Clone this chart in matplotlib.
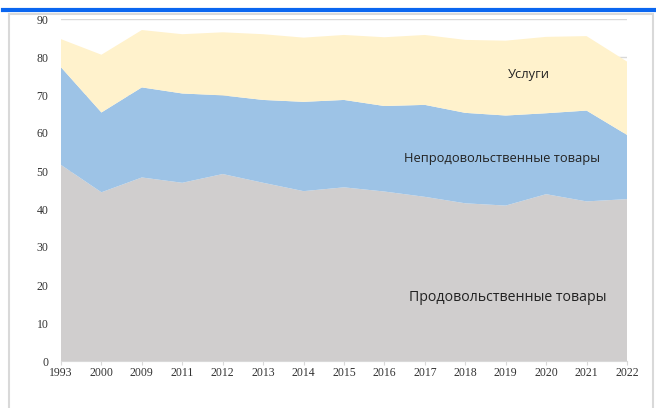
import matplotlib
matplotlib.use("Agg")
import matplotlib.pyplot as plt
from matplotlib.patches import Rectangle
from matplotlib.lines import Line2D
import numpy as np

years = ["1993", "2000", "2009", "2011", "2012", "2013", "2014", "2015",
         "2016", "2017", "2018", "2019", "2020", "2021", "2022"]
food = [51.6, 44.4, 48.3, 46.9, 49.2, 46.9, 44.7, 45.7, 44.6, 43.2, 41.5, 40.9, 43.9, 42.0, 42.6]
nonfood = [25.7, 21.0, 23.7, 23.5, 20.7, 21.8, 23.5, 23.0, 22.5, 24.2, 23.8, 23.7, 21.3, 23.9, 16.9]
services = [7.4, 15.2, 15.1, 15.6, 16.6, 17.3, 16.9, 17.1, 18.1, 18.4, 19.2, 19.7, 20.1, 19.6, 19.3]
yticks = [0, 10, 20, 30, 40, 50, 60, 70, 80, 90]

W, H = 656, 408
fig = plt.figure(figsize=(W / 100, H / 100), dpi=100)

# frame decorations
fig.add_artist(Rectangle((8.5 / W, -0.05), (653 - 8.5) / W, (H - 14) / H + 0.05,
                         transform=fig.transFigure, fill=False, edgecolor="#d9d9d9",
                         linewidth=1.5))
fig.add_artist(Line2D([3 / W, 1], [1 - 9.5 / H, 1 - 9.5 / H], transform=fig.transFigure,
                      color="#0a66f0", linewidth=3))

ax = fig.add_axes([61 / W, 1 - 361 / H, (627 - 61) / W, (361 - 19) / H])
x = np.arange(len(years))
ax.stackplot(x, food, nonfood, services,
             colors=["#d0cece", "#9dc3e6", "#fff2cc"], linewidth=0, zorder=2)

ax.set_xlim(0, len(years) - 1)
ax.set_ylim(0, 90)
ax.set_yticks(yticks)
ax.set_yticklabels([str(v) for v in yticks], family="Liberation Serif", fontsize=8.5, color="#333333")
ax.set_xticks(x)
ax.set_xticklabels(years, family="Liberation Serif", fontsize=8.5, color="#333333")
ax.grid(axis="y", color="#d9d9d9", linewidth=1, zorder=0)
ax.set_axisbelow(True)
for s in ["top", "right", "left"]:
    ax.spines[s].set_visible(False)
ax.spines["bottom"].set_color("#d9d9d9")
ax.tick_params(axis="y", length=0, pad=9)
ax.tick_params(axis="x", length=3, color="#d9d9d9", pad=1)

ax.text(11.58, 75.3, "Услуги", family="Open Sans", fontsize=9.3, color="#222222",
        ha="center", va="center", zorder=5)
ax.text(10.91, 53.2, "Непродовольственные товары", family="Open Sans", fontsize=9.3,
        color="#222222", ha="center", va="center", zorder=5)
ax.text(11.06, 16.8, "Продовольственные товары", family="Open Sans", fontsize=10.2,
        color="#222222", ha="center", va="center", zorder=5)

fig.savefig("out.png", dpi=100)
